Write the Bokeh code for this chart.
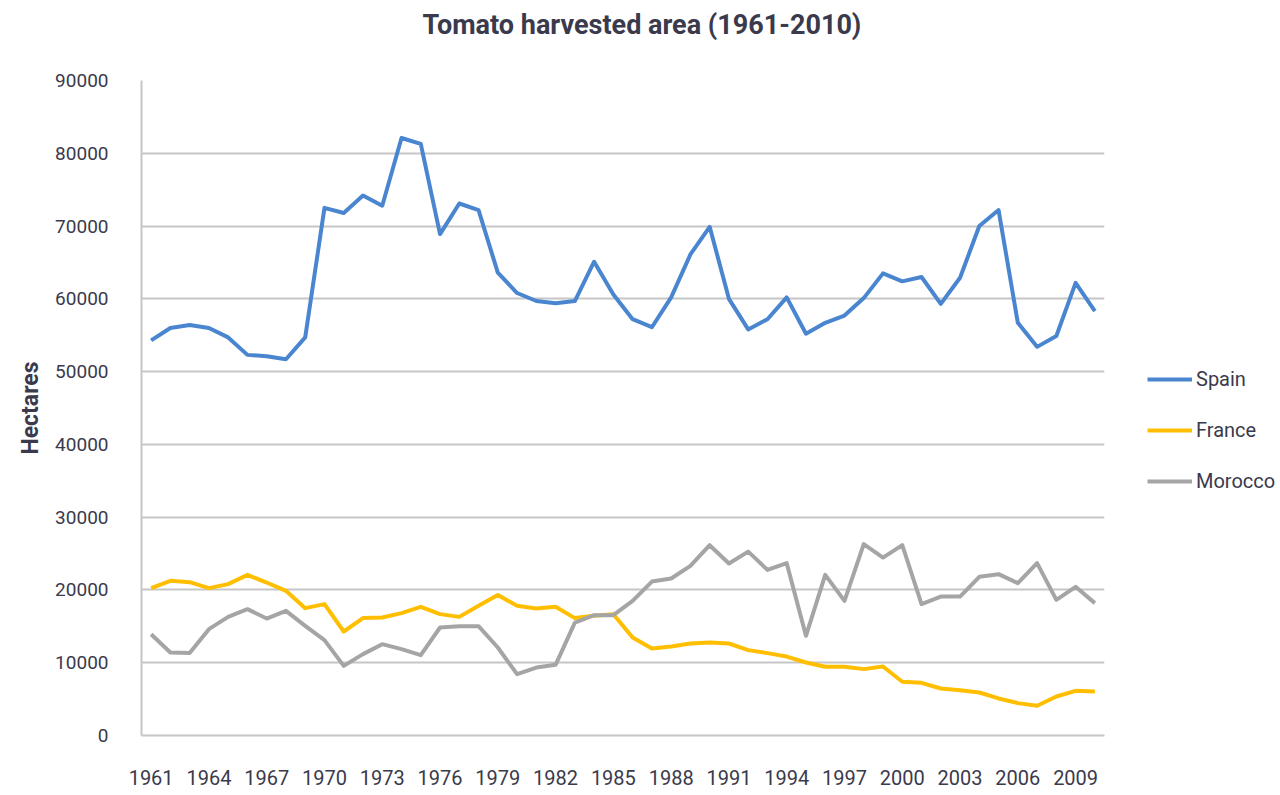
from bokeh.plotting import figure
from bokeh.models import Range1d, FixedTicker, Legend, LegendItem, Title
from bokeh.embed import file_html
from bokeh.resources import INLINE

years = list(range(1961, 2011))
tick_years = [1961, 1964, 1967, 1970, 1973, 1976, 1979, 1982, 1985, 1988,
              1991, 1994, 1997, 2000, 2003, 2006, 2009]
y_ticks = [0, 10000, 20000, 30000, 40000, 50000, 60000, 70000, 80000, 90000]

spain = [54300, 56000, 56400, 56000, 54700, 52300, 52100, 51700, 54700, 72500,
         71800, 74200, 72800, 82100, 81300, 68900, 73100, 72200, 63600, 60800,
         59700, 59400, 59700, 65100, 60600, 57200, 56100, 60200, 66100, 69900,
         60000, 55800, 57200, 60200, 55200, 56700, 57700, 60100, 63500, 62400,
         63000, 59300, 62900, 70000, 72200, 56700, 53400, 54900, 62200, 58300]
france = [20250, 21250, 21070, 20250, 20800, 22070, 21020, 19880, 17500, 18050,
          14290, 16130, 16210, 16810, 17680, 16680, 16300, 17820, 19290, 17820,
          17450, 17680, 16130, 16440, 16670, 13460, 11950, 12230, 12640, 12780,
          12640, 11730, 11320, 10850, 10030, 9440, 9440, 9120, 9480, 7380,
          7240, 6460, 6230, 5910, 5090, 4450, 4080, 5360, 6140, 6050]
morocco = [13920, 11400, 11320, 14610, 16300, 17360, 16070, 17130, 15070, 13100,
           9570, 11180, 12550, 11870, 11040, 14840, 15020, 15020, 12090, 8430,
           9340, 9710, 15520, 16540, 16540, 18500, 21150, 21570, 23310, 26150,
           23630, 25270, 22760, 23680, 13700, 22070, 18500, 26290, 24450, 26150,
           18050, 19090, 19090, 21800, 22170, 20930, 23680, 18640, 20430, 18190]

series_names = ["Spain", "France", "Morocco"]
series_colors = ["#4a86d0", "#ffbf00", "#a5a5a5"]
title_text = "Tomato harvested area (1961-2010)"

FONT = "Roboto"
TXT = "#3a3a4c"

p = figure(frame_width=963, frame_height=655, output_backend="svg",
           toolbar_location=None,
           x_range=Range1d(1960.5, 2010.5), y_range=Range1d(0, 90000),
           min_border_left=141, min_border_right=168, min_border_top=80,
           min_border_bottom=60)
p.title_location = None
# spacer between the frame and the title (first added sits nearest the frame)
p.add_layout(Title(text=" ", text_font=FONT, text_font_size="1px",
                   standoff=32), "above")
p.add_layout(Title(text=title_text, align="left",
                   text_font=FONT, text_font_size="27px",
                   text_font_style="bold", text_color=TXT,
                   standoff=10, offset=281), "above")
p.outline_line_color = None
p.background_fill_color = "white"
p.border_fill_color = "white"

p.xgrid.grid_line_color = None
p.ygrid.grid_line_color = "#c6c6c6"
p.ygrid.grid_line_width = 2
p.ygrid.ticker = FixedTicker(ticks=y_ticks)

p.xaxis.ticker = FixedTicker(ticks=tick_years)
p.yaxis.ticker = FixedTicker(ticks=y_ticks)
for ax in (p.xaxis[0], p.yaxis[0]):
    ax.axis_line_color = "#c6c6c6"
    ax.axis_line_width = 2
    ax.major_tick_line_color = None
    ax.minor_tick_line_color = None
    ax.major_label_text_font = FONT
    ax.major_label_text_color = TXT
p.xaxis.major_label_text_font_size = "20px"
p.yaxis.major_label_text_font_size = "19px"
p.xaxis.major_label_standoff = 28
p.yaxis.major_label_standoff = 27
p.yaxis.axis_label = "Hectares"
p.yaxis.axis_label_text_font = FONT
p.yaxis.axis_label_text_font_size = "23px"
p.yaxis.axis_label_text_font_style = "bold"
p.yaxis.axis_label_text_color = TXT
p.yaxis.axis_label_standoff = 8

items = []
for name, vals, col in zip(series_names, [spain, france, morocco], series_colors):
    r = p.line(years, vals, line_color=col, line_width=4, line_join="round")
    items.append(LegendItem(label=name, renderers=[r]))

legend = Legend(items=items, location=(43, 242), padding=0, margin=0,
                border_line_color=None, background_fill_alpha=0,
                glyph_width=45, glyph_height=20, label_height=20,
                spacing=27, label_standoff=4,
                label_text_font=FONT, label_text_font_size="20px",
                label_text_color=TXT)
p.add_layout(legend, "right")

open("out.html", "w").write(file_html(p, INLINE))
